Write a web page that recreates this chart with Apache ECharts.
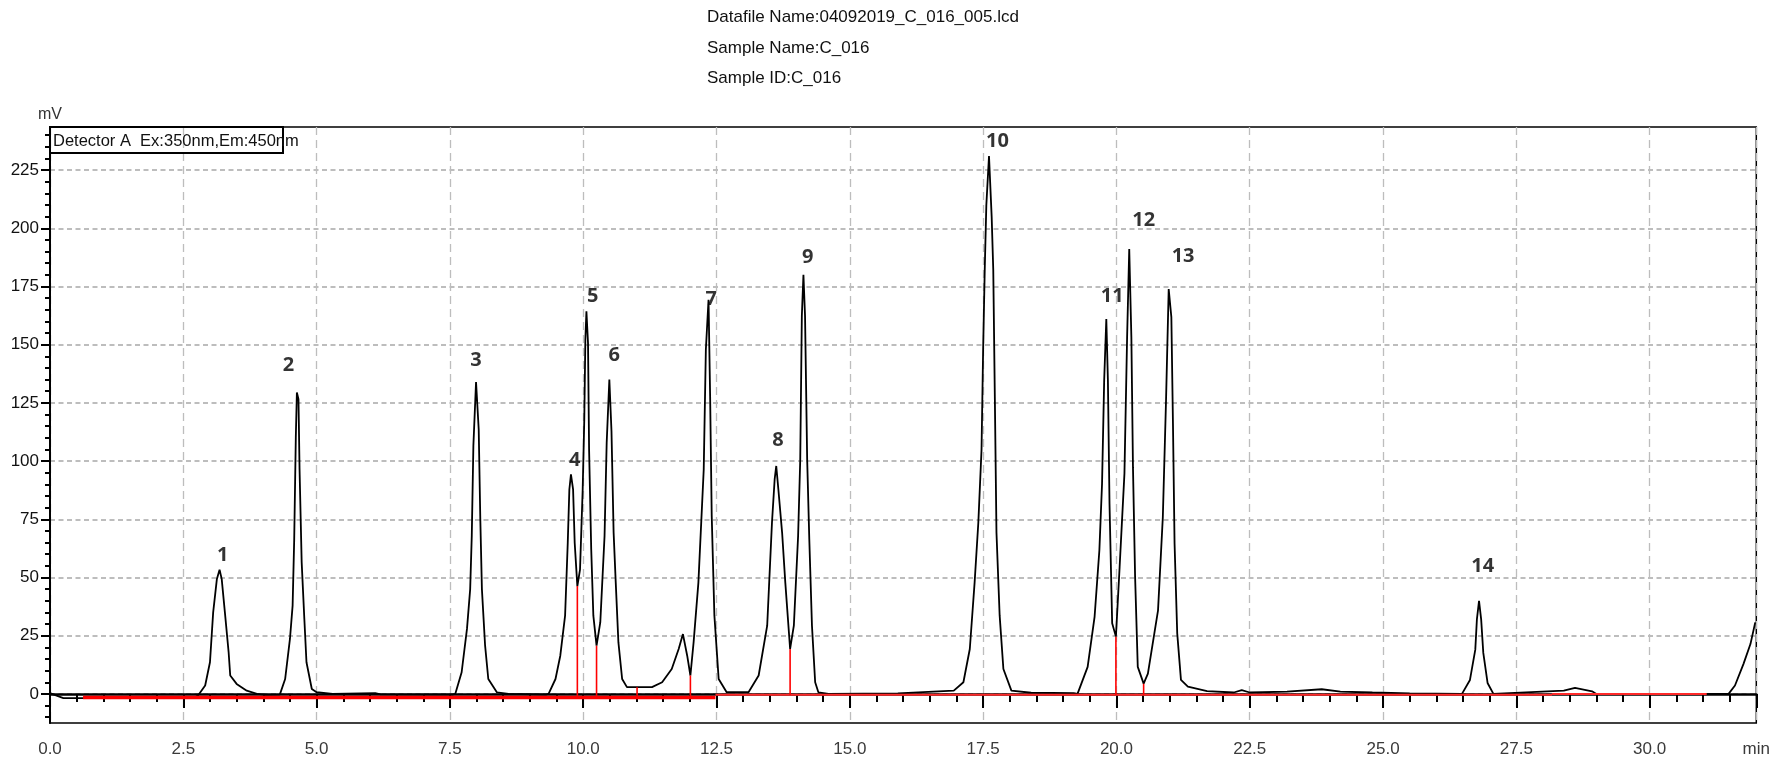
<!DOCTYPE html>
<html>
<head>
<meta charset="utf-8">
<title>Chromatogram C_016</title>
<script src="https://cdn.jsdelivr.net/npm/echarts@6/dist/echarts.min.js"></script>
<style>
html, body { margin: 0; padding: 0; background: #fff; }
#root { width: 1773px; height: 770px; }
</style>
</head>
<body>
<div id="root"></div>
<script>
// detector trace: retention time (min) / signal (mV)
var traceT = [0.00, 0.10, 0.25, 2.70, 2.78, 2.81, 2.91, 3.00, 3.06, 3.13, 3.18, 3.22, 3.28, 3.35, 3.38, 3.50, 3.69, 3.88, 4.05,
  4.31, 4.41, 4.50, 4.55, 4.58, 4.61, 4.63, 4.66, 4.68, 4.72, 4.77, 4.81, 4.91, 5.00, 5.30, 6.10, 6.20, 7.55,
  7.60, 7.72, 7.82, 7.88, 7.91, 7.94, 7.99, 8.04, 8.07, 8.10, 8.16, 8.22, 8.38, 8.60, 9.30,
  9.35, 9.48, 9.57, 9.66, 9.71, 9.74, 9.77, 9.81, 9.84, 9.89, 9.94, 9.99, 10.02, 10.04, 10.06, 10.09, 10.11, 10.15, 10.19,
  10.25, 10.32, 10.40, 10.44, 10.49, 10.53, 10.57, 10.61, 10.66, 10.73, 10.82, 11.29, 11.48, 11.66, 11.79, 11.87, 11.95,
  12.01, 12.07, 12.16, 12.26, 12.30, 12.35, 12.38, 12.41, 12.46, 12.54, 12.69, 13.10,
  13.29, 13.45, 13.54, 13.59, 13.62, 13.66, 13.73, 13.79, 13.88, 13.95, 14.03, 14.07, 14.10, 14.13, 14.16, 14.20, 14.24,
  14.29, 14.35, 14.41, 14.60, 15.90,
  16.95, 17.13, 17.25, 17.34, 17.41, 17.47, 17.50, 17.53, 17.56, 17.61, 17.66, 17.69, 17.72, 17.75, 17.81, 17.88, 18.03,
  18.40, 19.20,
  19.27, 19.46, 19.59, 19.68, 19.73, 19.77, 19.81, 19.84, 19.87, 19.92, 19.99, 20.06, 20.15, 20.20, 20.24, 20.28, 20.31,
  20.35, 20.40, 20.51, 20.59, 20.78, 20.87, 20.93, 20.98, 21.03, 21.06, 21.09, 21.14, 21.21, 21.34, 21.70,
  22.20, 22.35, 22.50, 23.20, 23.85, 24.20, 24.80, 25.50,
  26.48, 26.63, 26.73, 26.76, 26.80, 26.84, 26.88, 26.96, 27.07, 28.39, 28.60, 28.92, 29.00,
  31.48, 31.60, 31.76, 31.89, 31.98];
var traceV = [0.3, -0.5, -1.8, -1.8, -0.6, 0, 3.6, 13.6, 35, 49.4, 53.3, 49.4, 35, 17.9, 7.9, 4.3, 1.4, 0, -0.4,
  -0.3, 6.4, 23.6, 37.9, 66.5, 110.2, 129.5, 126.6, 96.6, 56.5, 32.2, 13.6, 2.1, 0.7, 0, 0.3, -0.2, -0.3,
  0, 9.3, 27.9, 45, 67.9, 106.6, 134, 113.7, 75.1, 45, 20.7, 6.4, 0.7, 0, -0.3,
  0, 6.4, 16.4, 33.6, 64.9, 87.8, 94.3, 87.8, 64.9, 46.3, 53.4, 87.8, 117.8, 152.1, 164.3, 150.7, 105, 62.1, 33.6,
  20.7, 30.7, 67.8, 107.9, 135, 112.9, 69.3, 47.8, 22.1, 6.4, 2.9, 2.9, 5, 10.7, 19.3, 25.7, 16.4,
  7.9, 22.1, 47.8, 96.4, 147.9, 169.3, 127.9, 76.4, 33.6, 6.4, 0.7, 0.7,
  7.9, 29.3, 73.6, 92.1, 97.9, 87.8, 69.3, 47.8, 19.3, 29.3, 67.8, 100.7, 162.3, 180, 162.3, 100.7, 66.3,
  29.3, 5, 0.7, 0, 0.2,
  1.4, 5, 19.3, 47.8, 73.6, 105, 147.9, 182.1, 210, 231, 205, 182.1, 126.4, 69.3, 33.6, 10.7, 1.4,
  0.5, 0.3,
  0, 11.6, 33.1, 61.7, 90.3, 134.6, 161, 134.6, 81.7, 30.3, 24.6, 54.6, 94.6, 153.2, 191.1, 153.2, 97.4,
  50.3, 11.6, 4.4, 8.7, 35.9, 76, 126, 173.9, 161.8, 116, 64.6, 26, 6, 3.1, 1.2,
  0.6, 1.6, 0.6, 1, 2, 1, 0.6, 0.2,
  0, 6, 19, 32, 40, 32, 17.6, 4.7, 0, 1.4, 2.6, 1.1, 0,
  0, 3.6, 12.9, 21.4, 30.7];

// integration baseline (red) segments
var baseStart = [0.62, 12.48, 28.17];
var baseEnd = [12.48, 28.17, 31.07];
var baseLevel = [-1.6, -0.4, 0];

// red drop lines between merged peaks
var dropT = [9.89, 10.25, 11.01, 12.01, 13.88, 19.99, 20.51];
var dropTop = [46.3, 20.7, 2.9, 7.9, 19.3, 24.6, 4.4];

// peak numbers and where they sit
var peakNames = ['1', '2', '3', '4', '5', '6', '7', '8', '9', '10', '11', '12', '13', '14'];
var peakLabelT = [3.24, 4.47, 7.99, 9.84, 10.18, 10.58, 12.40, 13.65, 14.21, 17.77, 19.92, 20.51, 21.25, 26.87];
var peakLabelV = [59.4, 141.2, 143.1, 100.5, 170.9, 145.6, 169.5, 108.8, 187.5, 237.3, 170.6, 203.5, 188.1, 55];

// axis ticks
var yLabelVals = [0, 25, 50, 75, 100, 125, 150, 175, 200, 225];
var yMinorVals = [-10, -5, 0, 5, 10, 15, 20, 25, 30, 35, 40, 45, 50, 55, 60, 65, 70, 75, 80, 85, 90, 95, 100,
  105, 110, 115, 120, 125, 130, 135, 140, 145, 150, 155, 160, 165, 170, 175, 180, 185, 190, 195, 200,
  205, 210, 215, 220, 225, 230, 235, 240];

var headerLines = ['Datafile Name:04092019_C_016_005.lcd', 'Sample Name:C_016', 'Sample ID:C_016'];
var detectorText = 'Detector A  Ex:350nm,Em:450nm';

var FONT = '"Liberation Sans", Arial, sans-serif';

var traceData = traceT.map(function (t, i) { return [t, traceV[i]]; });

function baseAt(t) {
    for (var i = 0; i < baseStart.length; i++) {
        if (t >= baseStart[i] && t <= baseEnd[i]) return baseLevel[i];
    }
    return 0;
}

var dropData = [];
dropT.forEach(function (t, i) {
    dropData.push([t, baseAt(t)], [t, dropTop[i]], [t, '-']);
});

var baseSeries = baseStart.map(function (s, i) {
    return {
        type: 'line',
        data: [[s, baseLevel[i]], [baseEnd[i], baseLevel[i]]],
        symbol: 'none',
        silent: true,
        lineStyle: { color: i === 0 ? '#ff0000' : '#ff2a2a', width: i === 0 ? 3.5 : 2 },
        z: 3
    };
});

var myChart = echarts.init(document.getElementById('root'));

var option = {
    animation: false,
    backgroundColor: '#fff',
    grid: {
        left: 50, right: 16, top: 127, bottom: 47,
        show: true, borderColor: '#000', borderWidth: 1.5
    },
    xAxis: [{
        type: 'value', min: 0, max: 32, interval: 2.5,
        axisLine: { lineStyle: { color: '#000', width: 2.5 } },
        axisTick: { length: 14, lineStyle: { color: '#000', width: 2 } },
        axisLabel: {
            margin: 18, fontSize: 17, color: '#3a3a3a', fontFamily: FONT,
            showMinLabel: true, showMaxLabel: true,
            formatter: function (v) { return v === 32 ? 'min' : v.toFixed(1); }
        },
        splitLine: { show: true, lineStyle: { color: '#bdbdbd', type: [8, 5], width: 1.3 } }
    }, {
        // minor ticks every 0.5 min
        type: 'value', min: 0, max: 32, interval: 0.5, position: 'bottom',
        axisLine: { show: false },
        axisTick: { length: 8, lineStyle: { color: '#000', width: 2 } },
        axisLabel: { show: false },
        splitLine: { show: false }
    }],
    yAxis: [{
        type: 'value', min: -12.5, max: 243.5,
        name: 'mV', nameLocation: 'end', nameGap: 4,
        nameTextStyle: { fontSize: 16, color: '#333', fontFamily: FONT },
        axisLine: { show: true, lineStyle: { color: '#000', width: 2 } },
        axisTick: { show: true, customValues: yMinorVals, length: 5, lineStyle: { color: '#000', width: 2 } },
        axisLabel: { customValues: yLabelVals, margin: 11, fontSize: 17, color: '#111', fontFamily: FONT },
        splitLine: { show: false }
    }, {
        type: 'value', min: -12.5, max: 243.5, position: 'left',
        axisLine: { show: false },
        axisTick: { show: true, customValues: yLabelVals, length: 9, lineStyle: { color: '#000', width: 2 } },
        axisLabel: { show: false },
        splitLine: { show: true, lineStyle: { color: '#bdbdbd', type: [5, 3.5], width: 2 } }
    }],
    graphic: [
        { type: 'text', x: 707, y: 17, style: { text: headerLines[0], font: '17px ' + FONT, fill: '#111', verticalAlign: 'middle' } },
        { type: 'text', x: 707, y: 48, style: { text: headerLines[1], font: '17px ' + FONT, fill: '#111', verticalAlign: 'middle' } },
        { type: 'text', x: 707, y: 78, style: { text: headerLines[2], font: '17px ' + FONT, fill: '#111', verticalAlign: 'middle' } },
        { type: 'rect', z: 100, shape: { x: 50, y: 127, width: 233, height: 26 }, style: { fill: 'none', stroke: '#000', lineWidth: 2 } },
        { type: 'text', z: 100, x: 53, y: 141, style: { text: detectorText, font: '16.5px ' + FONT, fill: '#111', verticalAlign: 'middle' } }
    ],
    series: [{
        type: 'line',
        data: traceData,
        symbol: 'none',
        silent: true,
        lineStyle: { color: '#000', width: 1.8 },
        z: 2
    }].concat(baseSeries).concat([{
        type: 'line',
        data: dropData,
        symbol: 'none',
        silent: true,
        connectNulls: false,
        lineStyle: { color: '#ff0000', width: 1.6 },
        z: 4
    }, {
        type: 'scatter',
        data: peakLabelT.map(function (t, i) { return { name: peakNames[i], value: [t, peakLabelV[i]] }; }),
        symbolSize: 1,
        itemStyle: { color: 'rgba(0,0,0,0)' },
        silent: true,
        label: {
            show: true, position: 'inside', formatter: '{b}',
            fontFamily: '"Open Sans", Lato, sans-serif', fontWeight: 'bold', fontSize: 20, color: '#000'
        },
        z: 5
    }])
};

myChart.setOption(option);
</script>
</body>
</html>
